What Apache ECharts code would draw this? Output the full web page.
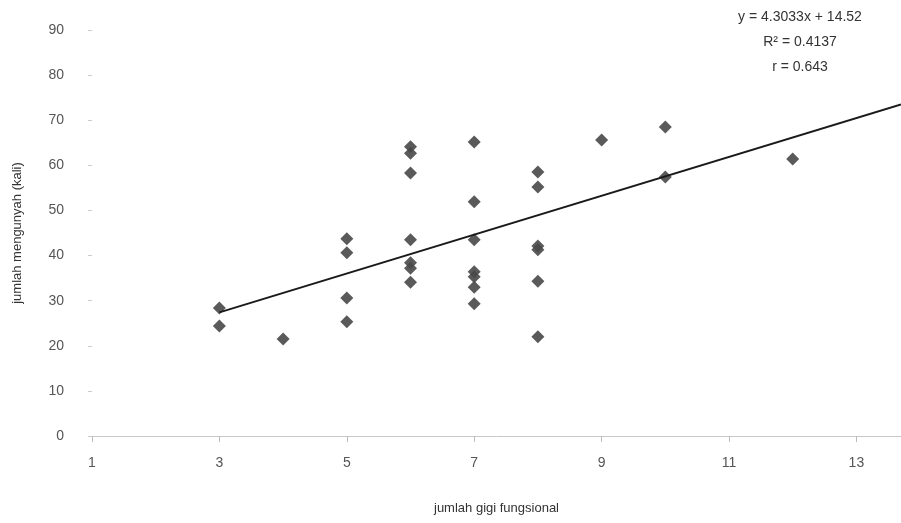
<!DOCTYPE html>
<html>
<head>
<meta charset="utf-8">
<title>jumlah gigi fungsional vs jumlah mengunyah</title>
<script src="https://cdn.jsdelivr.net/npm/echarts@6/dist/echarts.min.js"></script>
<style>
  html, body { margin: 0; padding: 0; background: #fff; }
  #chart { width: 901px; height: 523px; }
</style>
</head>
<body>
<div id="chart"></div>
<script>
// data
const giGiX = [3, 3, 4, 5, 5, 5, 5, 6, 6, 6, 6, 6, 6, 6,
  7, 7, 7, 7, 7, 7, 7, 8, 8, 8, 8, 8, 8, 9, 10, 10, 12]
const kunyahY = [28.4, 24.4, 21.5, 43.7, 40.6, 30.6, 25.3, 64.1, 62.7, 58.3, 43.5, 38.4, 37.2, 34.1,
  65.2, 51.9, 43.5, 36.4, 35.3, 33.0, 29.3, 58.5, 55.2, 42.1, 41.3, 34.3, 22.0, 65.6, 68.5, 57.4, 61.4]

// trend line ends as drawn (x from 3 to right edge)
const trendX = [3, 13.7]
const trendY = [27.4, 73.5]

const yTicks = [0, 10, 20, 30, 40, 50, 60, 70, 80, 90]
const xTicks = [1, 3, 5, 7, 9, 11, 13]

const eqLines = ['y = 4.3033x + 14.52', 'R\u00B2 = 0.4137', 'r = 0.643']

const font = '"Liberation Sans", Arial, sans-serif'
const labelColor = '#555'

const chart = echarts.init(document.getElementById('chart'))

chart.setOption({
  animation: false,
  backgroundColor: '#fff',
  grid: { left: 92, right: 0, top: 30, bottom: 87 },
  xAxis: {
    type: 'value',
    min: xTicks[0],
    max: trendX[1],
    interval: 2,
    name: 'jumlah gigi fungsional',
    nameLocation: 'middle',
    nameGap: 66,
    nameTextStyle: { fontFamily: font, fontSize: 13, color: '#333' },
    axisLine: { show: true, lineStyle: { color: '#c8c8c8', width: 1 } },
    axisTick: { show: true, length: 6, lineStyle: { color: '#bbb' } },
    axisLabel: {
      margin: 20, fontFamily: font, fontSize: 14, color: labelColor,
      showMaxLabel: false
    },
    splitLine: { show: false }
  },
  yAxis: {
    type: 'value',
    min: yTicks[0],
    max: yTicks[yTicks.length - 1],
    interval: 10,
    name: 'jumlah mengunyah (kali)',
    nameLocation: 'middle',
    nameGap: 68,
    nameTextStyle: { fontFamily: font, fontSize: 13, color: '#333' },
    axisLine: { show: false },
    axisTick: { show: true, length: 4, lineStyle: { color: '#ccc' } },
    axisLabel: { margin: 28, fontFamily: font, fontSize: 14, color: labelColor },
    splitLine: { show: false }
  },
  series: [
    {
      type: 'scatter',
      symbol: 'diamond',
      symbolSize: 13,
      itemStyle: { color: '#484848', opacity: 0.9 },
      data: giGiX.map((x, i) => [x, kunyahY[i]]),
      z: 3
    },
    {
      type: 'line',
      symbol: 'none',
      lineStyle: { color: '#1a1a1a', width: 2 },
      data: trendX.map((x, i) => [x, trendY[i]]),
      z: 4
    }
  ],
  graphic: eqLines.map((t, i) => ({
    type: 'text',
    x: 800,
    y: 10 + i * 25,
    style: {
      text: t,
      font: '14px "Liberation Sans", Arial, sans-serif',
      fill: '#333',
      textAlign: 'center'
    }
  }))
})
</script>
</body>
</html>
